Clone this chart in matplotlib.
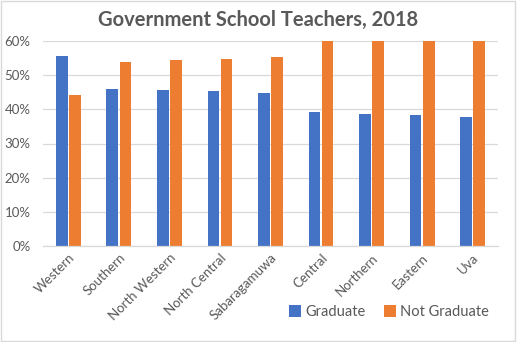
import matplotlib.pyplot as plt
import numpy as np
from matplotlib.patches import Rectangle

provinces = ["Western", "Southern", "North Western", "North Central", "Sabaragamuwa",
             "Central", "Northern", "Eastern", "Uva"]
graduate = [55.7, 46.0, 45.7, 45.4, 44.8, 39.3, 38.7, 38.4, 37.8]
not_graduate = [44.3, 54.0, 54.3, 54.6, 55.2, 60.7, 61.3, 61.6, 62.2]
yticks = [0, 10, 20, 30, 40, 50, 60]

BLUE = "#4472C4"
ORANGE = "#ED7D31"
TEXT = "#595959"
GRID = "#D9D9D9"

plt.rcParams["font.family"] = ["Lato", "DejaVu Sans"]

fig = plt.figure(figsize=(5.17, 3.42), dpi=100)
ax = fig.add_axes([43 / 517, 1 - 246 / 342, 455 / 517, 205 / 342])

x = np.arange(len(provinces))
w = 0.23
gap = 0.03
ax.bar(x - (w + gap) / 2, graduate, w, color=BLUE, label="Graduate", zorder=2)
ax.bar(x + (w + gap) / 2, not_graduate, w, color=ORANGE, label="Not Graduate", zorder=2)

ax.set_xlim(-0.5, len(provinces) - 0.5)
ax.set_ylim(0, 60)
ax.set_yticks(yticks)
ax.set_yticklabels([f"{v}%" for v in yticks], color=TEXT, fontsize=9.5)
ax.set_xticks(x)
ax.set_xticklabels(provinces, rotation=45, ha="right", rotation_mode="anchor",
                   color=TEXT, fontsize=9.5)
ax.tick_params(axis="x", length=0, pad=4)
ax.tick_params(axis="y", length=0, pad=9)
ax.yaxis.grid(True, color=GRID, linewidth=0.9, zorder=0)
for s in ["top", "right", "left"]:
    ax.spines[s].set_visible(False)
ax.spines["bottom"].set_color(GRID)
ax.spines["bottom"].set_linewidth(0.9)

fig.text(0.5, 1 - 20 / 342, "Government School Teachers, 2018", ha="center", va="center",
         fontsize=14.5, color=TEXT, fontweight="bold")

fig.legend(loc="center", bbox_to_anchor=(389 / 517, 1 - 312 / 342), ncol=2, frameon=False,
           fontsize=10.5, labelcolor=TEXT, handlelength=0.8, handleheight=0.8,
           handletextpad=0.3, columnspacing=1.3)

fig.patches.append(Rectangle((0.002, 0.003), 0.995, 0.994, transform=fig.transFigure,
                             fill=False, edgecolor=GRID, linewidth=1))

fig.savefig("out.png", dpi=100)
